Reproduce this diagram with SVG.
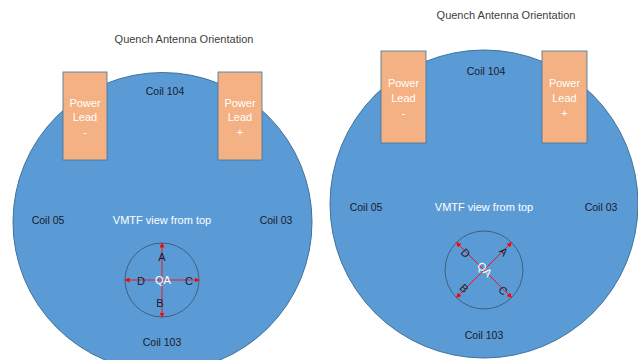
<svg xmlns="http://www.w3.org/2000/svg" width="638" height="360" viewBox="0 0 638 360">
<style>
text{font-family:"Liberation Sans",Arial,sans-serif;text-anchor:middle}
.title{font-size:11px;fill:#404040}
.coil{font-size:10.5px;fill:#1a1a2e}
.wt{font-size:11px;fill:#ffffff}
.big{fill:#5B9BD5;stroke:#41719C;stroke-width:1}
.lead{fill:#F4B183;stroke:#41719C;stroke-width:0.8}
.qa{fill:none;stroke:#3A5068;stroke-width:0.8}
.arr{stroke:#FF0000;stroke-width:0.8;marker-start:url(#ah);marker-end:url(#ah)}
.lbl{font-size:11px;fill:#1a1a2e;dominant-baseline:central}
.qat{font-size:11px;fill:#ffffff;dominant-baseline:central}
</style>
<defs>
<marker id="ah" viewBox="0 0 10 10" refX="9" refY="5" markerWidth="5" markerHeight="5" markerUnits="userSpaceOnUse" orient="auto-start-reverse">
<path d="M0,0 L10,5 L0,10 z" fill="#FF0000"/>
</marker>
</defs>
<rect width="638" height="360" fill="#ffffff"/>

<g id="left-diagram">
<text class="title" x="184" y="43">Quench Antenna Orientation</text>
<g id="left-disk"><circle class="big" cx="162.5" cy="222" r="149.5"/></g>
<g id="left-lead-minus">
<rect class="lead" x="63" y="72" width="44" height="88"/>
<text class="wt" x="85" y="107">Power</text>
<text class="wt" x="85" y="121">Lead</text>
<text class="wt" x="85" y="136">-</text>
</g>
<g id="left-lead-plus">
<rect class="lead" x="218" y="72" width="44" height="88"/>
<text class="wt" x="240" y="107">Power</text>
<text class="wt" x="240" y="121">Lead</text>
<text class="wt" x="240" y="136">+</text>
</g>
<text class="coil" x="165" y="95">Coil 104</text>
<text class="coil" x="48" y="224">Coil 05</text>
<text class="coil" x="276" y="224">Coil 03</text>
<text class="wt" x="162" y="224">VMTF view from top</text>
<text class="coil" x="162" y="346">Coil 103</text>
<g id="left-qa" transform="translate(162 280)">
<circle class="qa" cx="0" cy="0" r="37"/>
<g id="left-connectors">
<line class="arr" x1="0" y1="-37" x2="0" y2="37"/>
<line class="arr" x1="-37" y1="0" x2="37" y2="0"/>
</g>
<text class="lbl" x="0" y="-23">A</text>
<text class="lbl" x="-21" y="1">D</text>
<text class="lbl" x="27" y="1">C</text>
<text class="lbl" x="-2" y="23">B</text>
<text class="qat" x="1" y="0">QA</text>
</g>
</g>

<g id="right-diagram">
<text class="title" x="506" y="19">Quench Antenna Orientation</text>
<g id="right-disk"><circle class="big" cx="484" cy="204" r="154"/></g>
<g id="right-lead-minus">
<rect class="lead" x="381" y="51" width="45" height="92"/>
<text class="wt" x="403.5" y="87">Power</text>
<text class="wt" x="403.5" y="102">Lead</text>
<text class="wt" x="403.5" y="117">-</text>
</g>
<g id="right-lead-plus">
<rect class="lead" x="542" y="51" width="45" height="92"/>
<text class="wt" x="564.5" y="87">Power</text>
<text class="wt" x="564.5" y="102">Lead</text>
<text class="wt" x="564.5" y="117">+</text>
</g>
<text class="coil" x="486" y="75">Coil 104</text>
<text class="coil" x="366" y="211">Coil 05</text>
<text class="coil" x="601" y="211">Coil 03</text>
<text class="wt" x="484" y="211">VMTF view from top</text>
<text class="coil" x="484" y="339">Coil 103</text>
<g id="right-qa" transform="translate(484 270)">
<circle class="qa" cx="0" cy="0" r="39"/>
<g transform="rotate(45)">
<g id="right-connectors">
<line class="arr" x1="0" y1="-39" x2="0" y2="39"/>
<line class="arr" x1="-39" y1="0" x2="39" y2="0"/>
</g>
<text class="lbl" x="1" y="-27">A</text>
<text class="lbl" x="-25" y="1">D</text>
<text class="lbl" x="28" y="1">C</text>
<text class="lbl" x="-1" y="27">B</text>
<text class="qat" x="0" y="-1">QA</text>
</g>
</g>
</g>
</svg>
